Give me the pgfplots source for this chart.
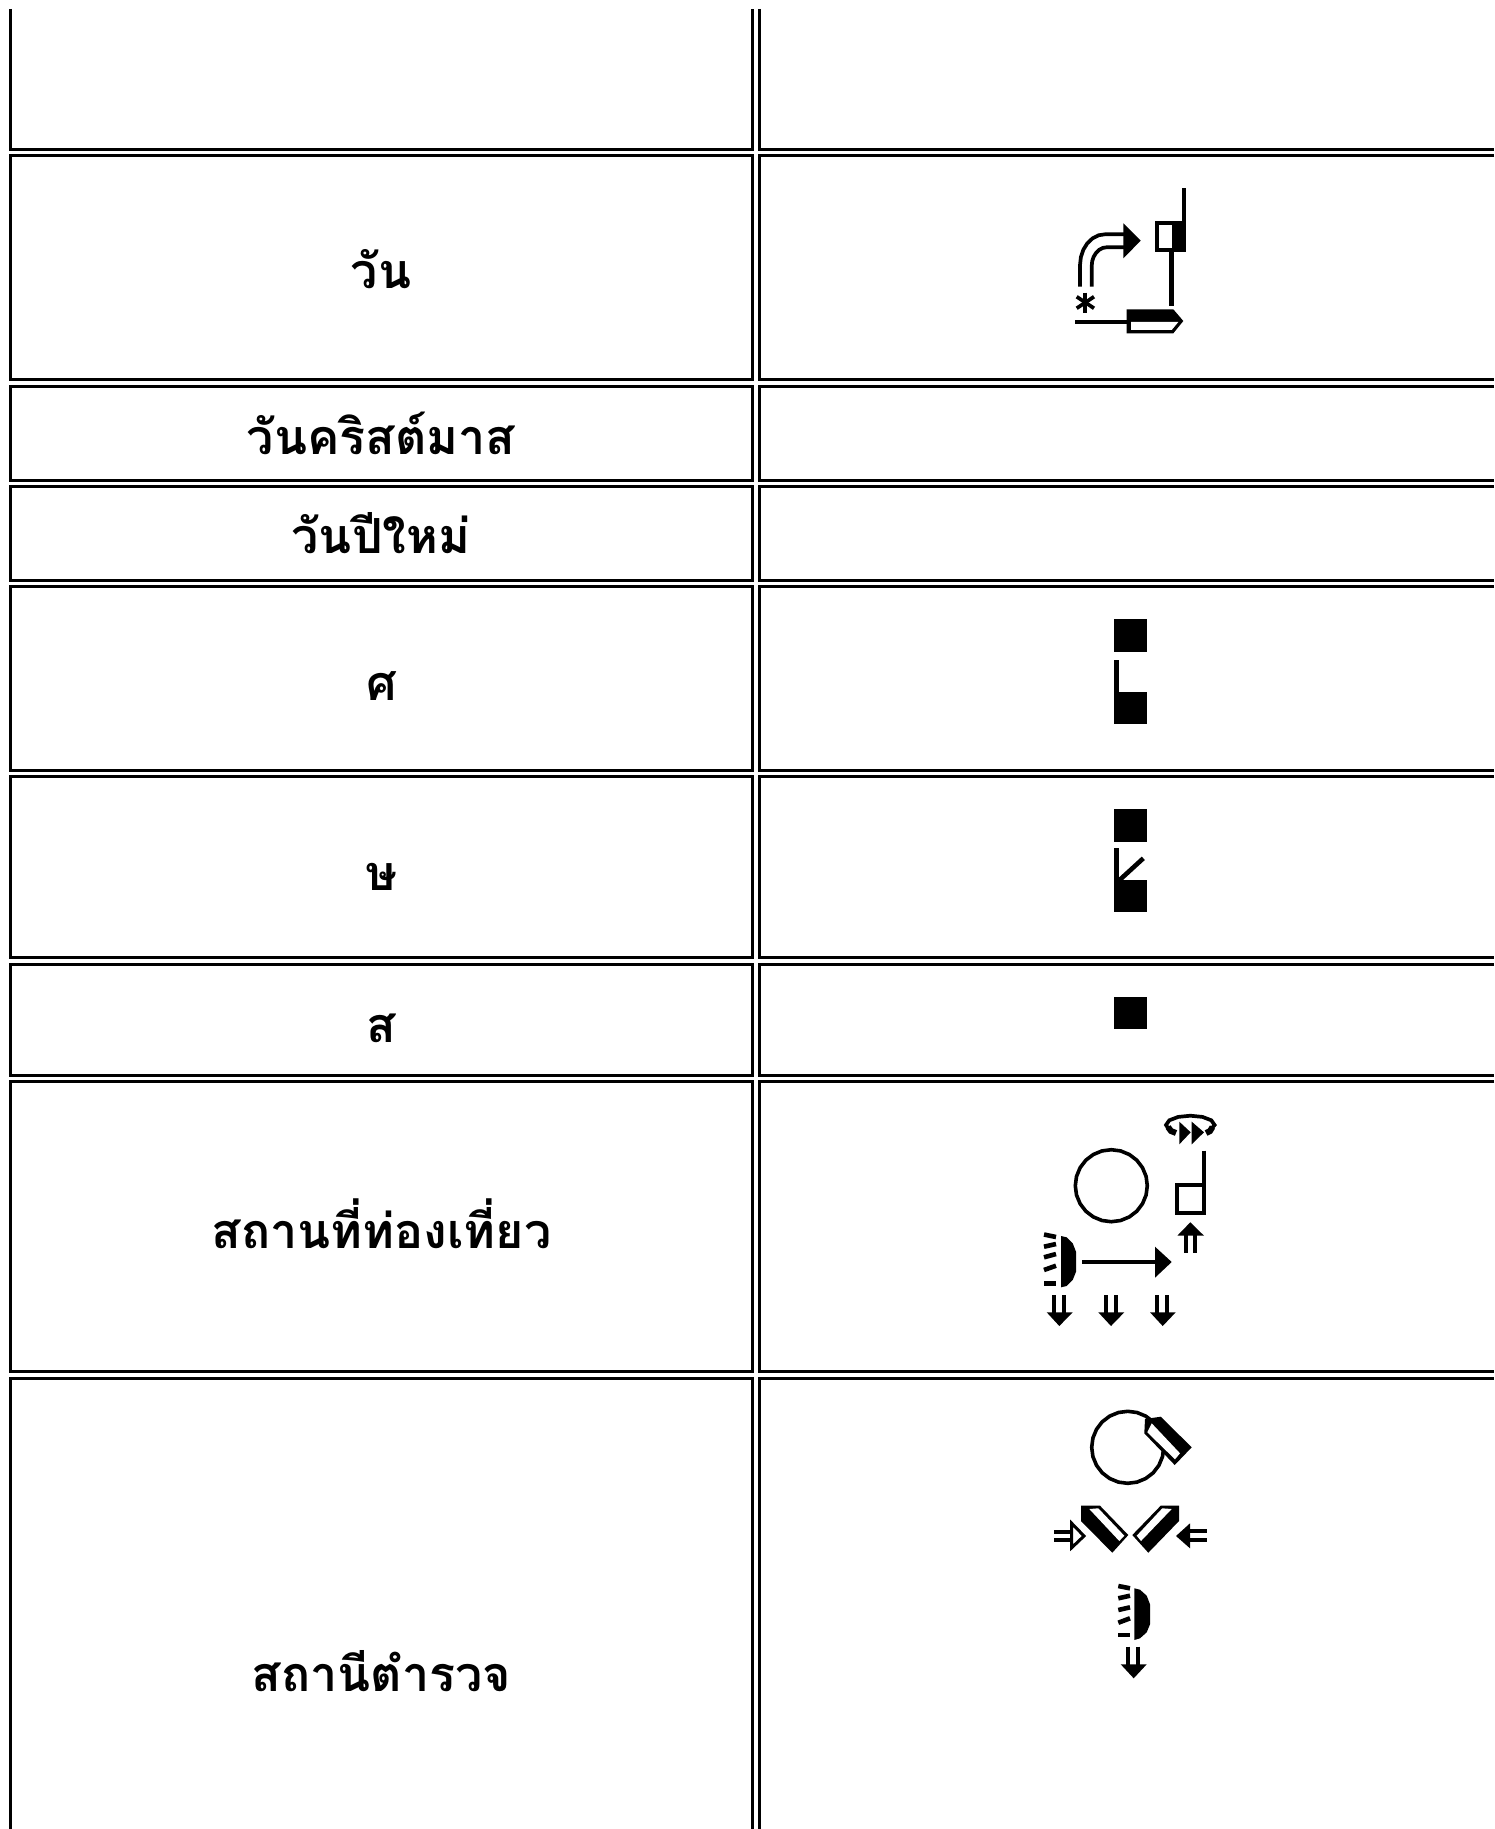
\documentclass[border=0pt]{standalone}
\usepackage{fontspec}
\usepackage{pgfplots}
\pgfplotsset{compat=1.18}
\newfontfamily\thaifont[Script=Thai]{Loma}
\newcommand\tblrow[2]{%
 \addplot[bd] coordinates {(10.5,#1)(752.5,#1)(752.5,#2)(10.5,#2)} --cycle;
 \addplot[bd] coordinates {(1494,#1)(759.5,#1)(759.5,#2)(1494,#2)};
}
\newcommand\fillp[1]{\addplot[fill=black,draw=none] coordinates {#1} --cycle;}
\newcommand\whitep[1]{\addplot[fill=white,draw=none] coordinates {#1} --cycle;}
\newcommand\gline[2][1.85pt]{\addplot[black,line width=#1] coordinates {#2};}
\newcommand\tx[3]{\node[anchor=base,inner sep=0pt,font=\thaifont\bfseries\fontsize{24.2pt}{29pt}\selectfont] at (axis cs:#1,#2) {#3};}
\begin{document}
\begin{tikzpicture}
\begin{axis}[
 scale only axis, width=747pt, height=914.5pt,
 xmin=0, xmax=1494, ymin=0, ymax=1829, y dir=reverse,
 hide axis, no markers,
 bd/.style={black,line width=1.5pt,line join=miter},
]
% table borders
\addplot[bd] coordinates {(10.5,9)(10.5,149.5)(752.5,149.5)(752.5,9)};
\addplot[bd] coordinates {(759.5,9)(759.5,149.5)(1494,149.5)};
\tblrow{155.5}{379.5}
\tblrow{386.5}{480.5}
\tblrow{486.5}{580.5}
\tblrow{586.5}{770.5}
\tblrow{776.5}{957.5}
\tblrow{964.5}{1075.5}
\tblrow{1081.5}{1371.5}
\addplot[bd] coordinates {(10.5,1829)(10.5,1378.5)(752.5,1378.5)(752.5,1829)};
\addplot[bd] coordinates {(759.5,1829)(759.5,1378.5)(1494,1378.5)};

% glyph: wan
\addplot[fill=white,draw=black,line width=2pt,line join=miter] coordinates {(1157,223)(1184,223)(1184,250)(1157,250)} --cycle;
\fillp{(1171.7,221)(1186,221)(1186,251.7)(1171.7,251.7)}
\fillp{(1182.2,188)(1186,188)(1186,222)(1182.2,222)}
\fillp{(1169.2,251)(1173.8,251)(1173.8,306)(1169.2,306)}
\fillp{(1126.7,309.3)(1173.3,309.3)(1183.3,321)(1173.3,333.3)(1126.7,333.3)}
\whitep{(1131,322)(1178.3,322)(1171.7,330)(1131,330)}
\gline{(1075,321.7)(1127,321.7)}
\gline{(1085,292.7)(1085,313.3)}
\gline{(1076.7,296.7)(1094,308.3)}
\gline{(1076.7,308.3)(1094,296.7)}
\gline{(1080,286.7)(1080,265)(1080.9,257)(1083.4,249.6)(1087.3,243.3)(1092.5,238.4)(1098.5,235.3)(1105,234.3)(1124,234.3)}
\gline{(1091.7,286.7)(1091.7,266)(1092.2,261.2)(1093.7,256.7)(1096.1,252.8)(1099.2,249.8)(1102.8,247.9)(1106.7,247.3)(1124,247.3)}
\fillp{(1123.3,223.3)(1140.7,240.7)(1123.3,258.3)}

% squares
\fillp{(1114.3,619.3)(1146.7,619.3)(1146.7,651.7)(1114.3,651.7)}
\fillp{(1114.3,692.3)(1146.7,692.3)(1146.7,724.3)(1114.3,724.3)}
\fillp{(1114.3,660)(1118.7,660)(1118.7,693)(1114.3,693)}
\fillp{(1114.3,809.3)(1146.7,809.3)(1146.7,841.7)(1114.3,841.7)}
\fillp{(1114.3,880)(1146.7,880)(1146.7,912.3)(1114.3,912.3)}
\fillp{(1114.3,848.3)(1118.7,848.3)(1118.7,881)(1114.3,881)}
\gline[2.3pt]{(1118.5,881)(1143.3,858.3)}
\fillp{(1114.3,997.3)(1146.7,997.3)(1146.7,1029.3)(1114.3,1029.3)}

% glyph: tourist place
\addplot[black,line width=1.8pt] coordinates {(1147.3,1185.7)(1146.1,1195)(1142.5,1203.7)(1136.8,1211.2)(1129.3,1216.9)(1120.6,1220.5)(1111.3,1221.7)(1102,1220.5)(1093.3,1216.9)(1085.8,1211.2)(1080.1,1203.7)(1076.5,1195)(1075.3,1185.7)(1076.5,1176.4)(1080.1,1167.7)(1085.8,1160.2)(1093.3,1154.5)(1102,1150.9)(1111.3,1149.7)(1120.6,1150.9)(1129.3,1154.5)(1136.8,1160.2)(1142.5,1167.7)(1146.1,1176.4)} --cycle;
\addplot[black,line width=2pt,line join=miter] coordinates {(1204.3,1150.7)(1204.3,1212.5)(1177,1212.5)(1177,1185.2)(1204.3,1185.2)};
\gline{(1168,1128)(1166,1125)(1169.3,1120.3)(1178.2,1116.9)(1190.3,1115.7)(1202.5,1116.9)(1211.3,1120.3)(1214.6,1125)(1212,1128)}
\gline[3pt]{(1168,1127)(1171,1131)(1176,1133)}
\gline[3pt]{(1212.5,1127)(1210,1131)(1206,1133)}
\fillp{(1179.3,1121.7)(1190.7,1132.3)(1179.3,1144.3)}
\fillp{(1191.7,1121.7)(1204,1132.3)(1191.7,1144.3)}
\fillp{(1190.3,1222.3)(1204,1235.7)(1177.3,1235.7)}
\gline{(1185.7,1235)(1185.7,1253.3)}
\gline{(1195.3,1235)(1195.3,1253.3)}
\fillp{(1061,1236)(1066.7,1237.3)(1072.7,1243.3)(1076,1251.7)(1076,1271.7)(1072.7,1280)(1066.7,1286)(1061,1287.3)}
\gline[2.3pt]{(1044,1234.5)(1056,1237)}
\gline[2.3pt]{(1044,1246.7)(1056,1244)}
\gline[2.3pt]{(1044,1257.3)(1056,1254)}
\gline[2.3pt]{(1044,1270)(1056,1265.7)}
\gline[2.3pt]{(1044,1283.3)(1056,1283.3)}
\gline[2pt]{(1082.3,1262)(1156,1262)}
\fillp{(1155,1246.7)(1171.7,1262)(1155,1277.7)}
\gline{(1054,1295)(1054,1313)}
\gline{(1064.3,1295)(1064.3,1313)}
\fillp{(1046.7,1312.3)(1072.7,1312.3)(1059.3,1326)}
\gline{(1106,1295)(1106,1313)}
\gline{(1116,1295)(1116,1313)}
\fillp{(1098.3,1312.3)(1124.3,1312.3)(1111,1326)}
\gline{(1157.3,1295)(1157.3,1313)}
\gline{(1167.3,1295)(1167.3,1313)}
\fillp{(1150,1312.3)(1175.7,1312.3)(1162.7,1326)}

% glyph: police station
\addplot[black,line width=1.8pt] coordinates {(1163.7,1447.3)(1162.5,1456.6)(1158.9,1465.3)(1153.2,1472.8)(1145.7,1478.5)(1137,1482.1)(1127.7,1483.3)(1118.4,1482.1)(1109.7,1478.5)(1102.2,1472.8)(1096.5,1465.3)(1092.9,1456.6)(1091.7,1447.3)(1092.9,1438)(1096.5,1429.3)(1102.2,1421.8)(1109.7,1416.1)(1118.4,1412.5)(1127.7,1411.3)(1137,1412.5)(1145.7,1416.1)(1153.2,1421.8)(1158.9,1429.3)(1162.5,1438)} --cycle;
\fillp{(1145,1419)(1160.7,1416.7)(1191.7,1447.3)(1174.7,1465)(1144.3,1433.3)}
\whitep{(1151.7,1423.3)(1180,1453.3)(1175,1459.3)(1147.3,1432.3)}
\fillp{(1081,1505.7)(1100,1505.7)(1128.3,1535)(1112.3,1552.7)(1081,1521)}
\whitep{(1089.3,1509)(1098.3,1508.3)(1124.3,1535.7)(1119.3,1541)}
\fillp{(1179,1505.7)(1160.7,1505.7)(1132.3,1535)(1148.3,1552.7)(1179,1521)}
\whitep{(1171.7,1509)(1162.3,1508.3)(1136.7,1535.7)(1141,1541)}
\gline{(1054,1531.7)(1071,1531.7)}
\gline{(1054,1540.3)(1071,1540.3)}
\addplot[fill=white,draw=black,line width=1.5pt] coordinates {(1071.7,1523.3)(1084,1536)(1071.7,1547.7)} --cycle;
\gline{(1190,1531)(1207.3,1531)}
\gline{(1190,1540.3)(1207.3,1540.3)}
\fillp{(1190,1523.3)(1176,1536)(1190,1548.3)}
\fillp{(1134.3,1588.3)(1140,1589.7)(1146.7,1595.7)(1150,1604.3)(1150,1624.3)(1146.7,1632.3)(1140,1638.3)(1134.3,1640)}
\gline[2.3pt]{(1118.3,1586)(1130,1588.3)}
\gline[2.3pt]{(1118.3,1598.3)(1130,1595.7)}
\gline[2.3pt]{(1118.3,1610)(1130,1607.3)}
\gline[2.3pt]{(1118.3,1622.7)(1130,1618.3)}
\gline[2.3pt]{(1118.3,1635)(1130,1635)}
\gline{(1128.3,1646.7)(1128.3,1665)}
\gline{(1138.3,1646.7)(1138.3,1665)}
\fillp{(1120.7,1664.3)(1146.7,1664.3)(1133.7,1678.3)}

% labels
\tx{381}{289}{วัน}
\tx{381}{454}{วันคริสต์มาส}
\tx{381}{553}{วันปีใหม่}
\tx{381.5}{700}{ศ}
\tx{381.5}{890}{ษ}
\tx{381.5}{1042}{ส}
\tx{381.5}{1248}{สถานที่ท่องเที่ยว}
\tx{381.5}{1691.5}{สถานีตำรวจ}
\end{axis}
\path (current axis.south west) rectangle (current axis.north east);
\end{tikzpicture}
\end{document}
